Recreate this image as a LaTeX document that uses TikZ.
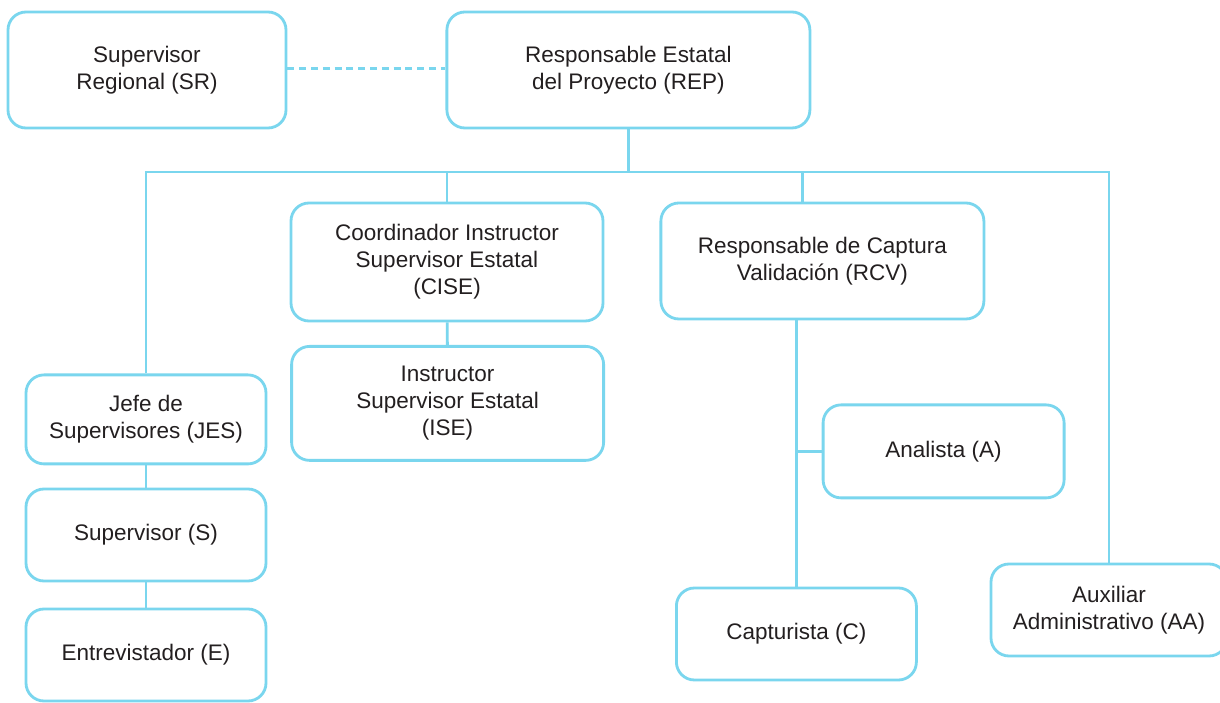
\documentclass[tikz,border=0pt]{standalone}
\usepackage{fontspec}
\setmainfont{Liberation Sans}
\usepackage{tikz}
\usetikzlibrary{positioning, calc}
\definecolor{cianorg}{RGB}{122,214,238}
\definecolor{textoorg}{RGB}{35,31,32}
\tikzset{
    orgbox/.style={draw=cianorg, line width=2pt, rounded corners=0.45cm, fill=white, align=center, inner sep=2pt, text=textoorg, font=\fontsize{16}{19.3}\selectfont},
    orgmulti/.style={orgbox, execute at begin node={\rule{0pt}{15.9pt}}},
    orglink/.style={draw=cianorg, line width=2pt},
    orgdash/.style={orglink, dash pattern=on 0.175cm off 0.12cm},
}

\begin{document}
\begin{tikzpicture}
        \useasboundingbox[fill=white] (0,0) rectangle (30.5,17.575);
        % Nivel superior
        \node[orgmulti, minimum width=6.95cm, minimum height=2.9cm] (sr) at (3.675,15.825) {Supervisor\\Regional (SR)};
        \node[orgmulti, minimum width=9.075cm, minimum height=2.9cm] (rep) at (15.71,15.825) {Responsable Estatal\\del Proyecto (REP)};
        % Segundo nivel
        \node[orgmulti, minimum width=7.8cm, minimum height=2.95cm] (cise) at (11.175,11.025) {Coordinador Instructor\\Supervisor Estatal\\(CISE)};
        \node[orgmulti, minimum width=8.075cm, minimum height=2.9cm] (rcv) at (20.56,11.05) {Responsable de Captura\\Validación (RCV)};
        \node[orgmulti, minimum width=7.8cm, minimum height=2.85cm] (ise) at (11.19,7.49) {Instructor\\Supervisor Estatal\\(ISE)};
        % Rama de campo
        \node[orgmulti, minimum width=6cm, minimum height=2.225cm] (jes) at (3.65,7.09) {Jefe de\\Supervisores (JES)};
        \node[orgbox, minimum width=6cm, minimum height=2.3cm] (sup) at (3.65,4.2) {Supervisor (S)};
        \node[orgbox, minimum width=6cm, minimum height=2.3cm] (ent) at (3.65,1.2) {Entrevistador (E)};
        % Rama de captura
        \node[orgbox, minimum width=6.025cm, minimum height=2.325cm] (ana) at (23.59,6.29) {Analista (A)};
        \node[orgbox, minimum width=6cm, minimum height=2.3cm] (cap) at (19.91,1.725) {Capturista (C)};
        \node[orgmulti, minimum width=5.9cm, minimum height=2.3cm] (aa) at (27.725,2.325) {Auxiliar\\Administrativo (AA)};
        % Conexiones
        \coordinate (bus) at (15.71,13.275);
        \draw[orgdash] ([yshift=0.04cm]sr.east) -- ([yshift=0.04cm]sr.east -| rep.west);
        \draw[orglink] (rep.south) -- (bus);
        \draw[orglink] (jes.north) |- (bus) -| (aa.north);
        \draw[orglink] (cise.north) -- (cise.north |- bus);
        \draw[orglink] ([xshift=-0.49cm]rcv.north) -- ([xshift=-0.49cm]rcv.north |- bus);
        \draw[orglink] (cise) -- (ise);
        \draw[orglink] (jes) -- (sup); \draw[orglink] (sup) -- (ent);
        \draw[orglink] (cap.north) -- (cap.north |- rcv.south);
        \draw[orglink] (ana.west) -- (ana.west -| cap.north);
    \end{tikzpicture}
\end{document}
